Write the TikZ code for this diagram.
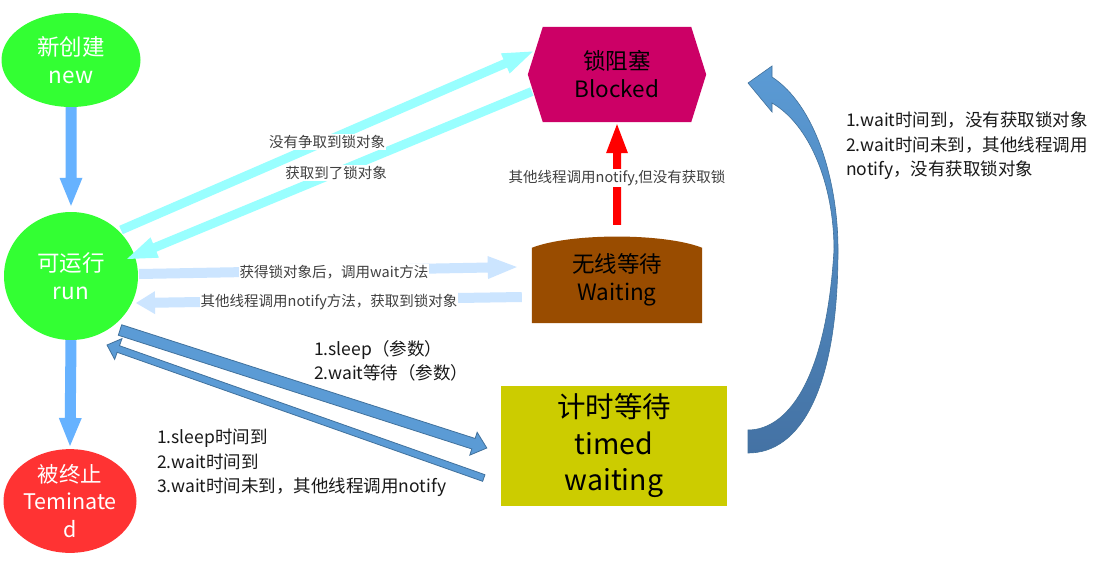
\documentclass[tikz,border=0pt]{standalone}
\usepackage{fontspec}
\setmainfont{Noto Sans CJK SC}
\usetikzlibrary{shapes.geometric,calc}
\pgfdeclarelayer{background}
\pgfdeclarelayer{canvas}
\pgfsetlayers{canvas,background,main}
\definecolor{cgreen}{HTML}{33FF33}
\definecolor{cred}{HTML}{FF3333}
\definecolor{cmag}{HTML}{CC0066}
\definecolor{cbrown}{HTML}{994C00}
\definecolor{colive}{HTML}{CCCC00}
\definecolor{ccyan}{HTML}{99FFFF}
\definecolor{cpale}{HTML}{CCE5FF}
\definecolor{cvert}{HTML}{66B2FF}
\definecolor{cdark}{HTML}{5B9BD5}
\definecolor{cdarkline}{HTML}{41719C}
\definecolor{cbigtop}{HTML}{5B9BD5}
\definecolor{cbigbot}{HTML}{4472A4}
\definecolor{clabel}{HTML}{404040}
\newcommand{\blockarrow}[6]{%
 \coordinate (ba-s) at (#2);
 \coordinate (ba-t) at (#3);
 \coordinate (ba-h) at ($(ba-t)!#6!(ba-s)$);
 \path[#1] ($(ba-s)!#4!90:(ba-t)$) -- ($(ba-h)!#4!90:(ba-t)$) -- ($(ba-h)!#5!90:(ba-t)$) -- (ba-t) -- ($(ba-h)!#5!-90:(ba-t)$) -- ($(ba-h)!#4!-90:(ba-t)$) -- ($(ba-s)!#4!-90:(ba-t)$) -- cycle;}
\tikzset{
 bigtext/.style={font=\fontsize{22.5}{28}\selectfont, align=center, inner sep=0pt},
 state/.style={ellipse, bigtext, text=white},
 lbl/.style={fill=white, text=clabel, font=\fontsize{14.5}{17}\selectfont, inner sep=1pt},
 dlbl/.style={anchor=west, align=left, text=black!90, font=\fontsize{17.5}{24.5}\selectfont, inner sep=0pt},
}
\begin{document}
\begin{tikzpicture}[x=1pt,y=-1pt]
\begin{pgfonlayer}{canvas}
\fill[white] (0,0) rectangle (1113,560);
\end{pgfonlayer}
\useasboundingbox (0,0) rectangle (1113,560);
% state nodes
\node[state, fill=cgreen, minimum width=139pt, minimum height=94pt] (new) at (71,60) {新创建\\new};
\node[state, fill=cgreen, minimum width=134pt, minimum height=128pt] (run) at (71,276) {可运行\\run};
\node[state, fill=cred, minimum width=133pt, minimum height=102pt, font=\fontsize{21.5}{27.5}\selectfont] (term) at (70,501) {被终止\\Teminate\\d};
\node[bigtext, minimum width=178pt, minimum height=95pt] (blocked) at (617,74.5) {锁阻塞\\Blocked};
\node[bigtext, minimum width=170pt, minimum height=86pt] (waiting) at (617,280) {无线等待\\Waiting};
\node[fill=colive, minimum width=226pt, minimum height=120pt, inner sep=0pt, align=center, font=\fontsize{28.5}{36.5}\selectfont] (timed) at (614,446) {计时等待\\timed\\waiting};
\begin{pgfonlayer}{background}
\fill[cmag] (blocked.west) -- ($(blocked.north west)+(15,0)$) -- ($(blocked.north east)+(-15,0)$) -- (blocked.east) -- ($(blocked.south east)+(-15,0)$) -- ($(blocked.south west)+(15,0)$) -- cycle;
\fill[cbrown] (waiting.south west) -- ($(waiting.north west)+(0,11)$) .. controls ($(waiting.north west)+(38,-4)$) and ($(waiting.north east)+(-38,-4)$) .. ($(waiting.north east)+(0,11)$) -- (waiting.south east) -- cycle;
\end{pgfonlayer}
% vertical arrows
\blockarrow{fill=cvert}{new.south}{$(run.north)+(0,-6)$}{5.5pt}{11.5pt}{28pt}
\blockarrow{fill=cvert}{run.south}{$(term.north)+(0,-3)$}{5.5pt}{11.5pt}{28pt}
% cyan arrows
\blockarrow{fill=ccyan}{$(run)+(50,-46)$}{$(blocked.west)+(5,-23)$}{4.5pt}{11pt}{30pt}
\blockarrow{fill=ccyan}{$(blocked.west)+(4,17)$}{$(run)+(56,-17)$}{4.5pt}{11pt}{30pt}
% pale arrows
\blockarrow{fill=cpale}{$(run)+(68,-2)$}{$(waiting.west)+(-15,-13)$}{5pt}{11.5pt}{29pt}
\blockarrow{fill=cpale}{$(waiting.west)+(-10,17)$}{$(run)+(65,27)$}{5pt}{11.5pt}{19pt}
% dark blue arrows
\blockarrow{fill=cdark, draw=cdarkline, line width=0.8pt}{$(run)+(49,54)$}{$(timed.west)+(-14,2)$}{5.5pt}{12pt}{14pt}
\blockarrow{fill=cdark, draw=cdarkline, line width=0.8pt}{$(timed.west)+(-17,32)$}{$(run)+(36,69)$}{3.5pt}{11pt}{12pt}
% red arrow
\blockarrow{fill=red}{$(waiting.north)+(0,-12)$}{$(blocked.south)+(0,2)$}{4pt}{11pt}{29pt}
% big curved arrow
\shadedraw[top color=cbigtop, bottom color=cbigbot, draw=cdarkline, line width=0.6pt]
 (772,77) .. controls (815,105) and (838,180) .. (838,250)
 .. controls (838,390) and (800,453) .. (748,453)
 -- (748,430)
 .. controls (785,430) and (826,385) .. (834,250)
 .. controls (834,185) and (810,125) .. (772,103)
 -- (772,112) -- (748,83) -- (772,66) -- cycle;
% labels
\node[lbl] (l1) at (327,142) {没有争取到锁对象};
\node[lbl] (l2) at (336,173) {获取到了锁对象};
\node[lbl] (l3) at (334,272) {获得锁对象后，调用wait方法};
\node[lbl] (l4) at (329,302) {其他线程调用notify方法，获取到锁对象};
\node[lbl] (l5) at (617,178) {其他线程调用notify,但没有获取锁};
\node[dlbl] (l6) at (314,361) {1.sleep（参数）\\2.wait等待（参数）};
\node[dlbl] (l7) at (157,463) {1.sleep时间到\\2.wait时间到\\3.wait时间未到，其他线程调用notify};
\node[dlbl] (l8) at (846,146) {1.wait时间到，没有获取锁对象\\2.wait时间未到，其他线程调用\\notify，没有获取锁对象};
\end{tikzpicture}
\end{document}
